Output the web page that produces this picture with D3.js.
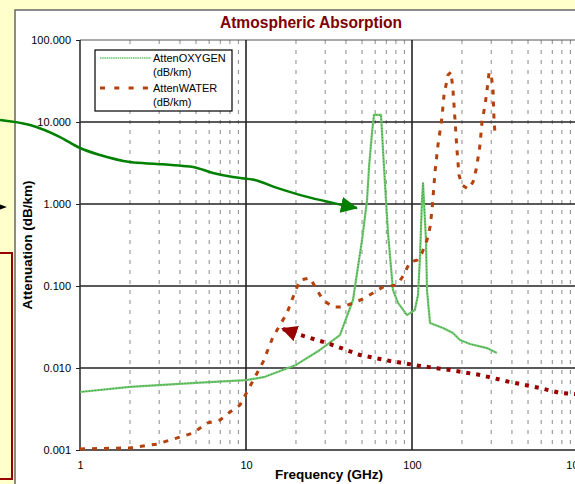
<!DOCTYPE html>
<html><head><meta charset="utf-8">
<script src="https://cdn.jsdelivr.net/npm/d3@7"></script>
<style>body{margin:0;background:#ffffcc;} svg{display:block;font-family:"Liberation Sans",Arial,sans-serif;}</style>
</head><body>
<script>
// ---- data ----
const oxygenFreq = [1, 2, 5, 10, 13, 20, 27.9, 36.8, 44.1, 50, 53.6, 55.1, 57.4, 59, 65, 66, 67.8, 69.7, 71.7, 74.7, 76.8, 82.4, 93.3, 104, 108.7, 111.7, 114.9, 116.5, 121.4, 123.1, 128.4, 153.7, 176.6, 194.5, 223.5, 283, 325];
const oxygenVal = [0.0051, 0.0059, 0.0066, 0.0071, 0.0078, 0.0109, 0.0166, 0.0252, 0.0675, 0.364, 1.12, 2.83, 7.35, 12.2, 12.2, 7.35, 2.83, 1.12, 0.442, 0.171, 0.0893, 0.0621, 0.0442, 0.0509, 0.0776, 0.226, 1.12, 1.80, 0.364, 0.0893, 0.0354, 0.0308, 0.0267, 0.0219, 0.0196, 0.0175, 0.0152];
const waterFreq = [1, 2, 2.91, 4.0, 4.8, 5.82, 6.97, 8.01, 9.2, 10.28, 11.33, 12.66, 14.54, 17.66, 19.73, 21.16, 24.3, 26.8, 29.1, 33.4, 38.4, 45.4, 50.7, 58.2, 66.9, 81.2, 88.3, 97.3, 107.2, 114.9, 123.1, 128.4, 132, 133.9, 137.6, 143.4, 151.6, 155.9, 164.8, 171.8, 176.6, 181.6, 186.6, 191.9, 200, 217.4, 233, 243.1, 249.9, 256.8, 264, 275.4, 283.2, 291.1, 299.3, 307.7, 312, 316.2];
const waterVal = [0.00103, 0.00106, 0.00118, 0.00144, 0.00161, 0.00213, 0.00232, 0.00291, 0.00354, 0.00539, 0.00777, 0.0118, 0.0239, 0.0469, 0.0845, 0.118, 0.125, 0.0893, 0.0675, 0.0554, 0.0554, 0.0638, 0.0694, 0.0822, 0.0972, 0.103, 0.132, 0.196, 0.207, 0.253, 0.364, 0.524, 0.845, 1.22, 2.46, 5.24, 11.5, 21.3, 37.4, 40.7, 24.5, 10.6, 4.56, 2.26, 1.71, 1.52, 1.85, 2.60, 3.64, 5.24, 10.0, 16.1, 24.5, 39.6, 39.6, 24.5, 10.6, 7.35];
const xTickValues = [1, 10, 100, 1000];
const xTickLabels = ["1", "10", "100", "1000"];
const yTickValues = [0.001, 0.01, 0.1, 1, 10, 100];
const yTickLabels = ["0.001", "0.010", "0.100", "1.000", "10.000", "100.000"];
const seriesNames = ["AttenOXYGEN", "AttenWATER"];
const seriesUnit = "(dB/km)";
const chartTitle = "Atmospheric Absorption";
const xTitle = "Frequency (GHz)";
const yTitle = "Attenuation (dB/km)";
// slide annotations (in data coordinates)
const greenArrowFreq = [0.33, 0.5, 0.758, 1, 1.32, 2.0, 2.91, 4.17, 4.8, 6.33, 8.35, 11.33, 15.37, 20.3, 46.6];
const greenArrowVal = [10.6, 9.19, 6.56, 4.82, 3.96, 3.25, 3.08, 2.91, 2.83, 2.39, 2.13, 1.96, 1.57, 1.32, 0.894];
const redArrowFreq = [1000, 959, 779, 590, 389, 257, 169, 112, 73.7, 48.6, 32.1, 21.2, 16.7];
const redArrowVal = [0.00475, 0.00482, 0.00496, 0.0057, 0.00675, 0.00822, 0.00946, 0.0106, 0.0122, 0.0144, 0.0196, 0.0253, 0.0299];

const W = 575, H = 484;
const svg = d3.select("body").append("svg").attr("width", W).attr("height", H);
const x = d3.scaleLog().domain([1, 1000]).range([80, 578]);
const y = d3.scaleLog().domain([0.001, 100]).range([450, 40]);

// backgrounds
svg.append("rect").attr("width", W).attr("height", H).attr("fill", "#ffffcc");
svg.append("rect").attr("x", 15).attr("y", 10).attr("width", W).attr("height", H).attr("fill", "#fff")
  .attr("stroke", "#666").attr("stroke-width", 1.5);
// red box on slide (partially visible)
svg.append("rect").attr("x", -10).attr("y", 253).attr("width", 22).attr("height", 226)
  .attr("fill", "#ffffcc").attr("stroke", "#990000").attr("stroke-width", 2);

// minor vertical grid
const minor = [];
[1, 10, 100, 1000].forEach(d => { for (let k = 2; k <= 9; k++) minor.push(d * k); });
svg.append("g").selectAll("line").data(minor.filter(v => x(v) < W + 5)).join("line")
  .attr("x1", d => x(d)).attr("x2", d => x(d)).attr("y1", y(100)).attr("y2", y(0.001))
  .attr("stroke", "#8a8a8a").attr("stroke-width", 1).attr("stroke-dasharray", "4,6");

// major grid
svg.append("g").selectAll("line").data(yTickValues).join("line")
  .attr("x1", x(1)).attr("x2", W + 5).attr("y1", d => y(d)).attr("y2", d => y(d))
  .attr("stroke", d => d === 100 ? "#555" : "#222").attr("stroke-width", d => d === 100 ? 1 : 1.6);
svg.append("g").selectAll("line").data(xTickValues).join("line")
  .attr("x1", d => x(d)).attr("x2", d => x(d)).attr("y1", y(100)).attr("y2", y(0.001))
  .attr("stroke", d => d === 1 ? "#333" : "#222").attr("stroke-width", 1.6);

// y axis
const yAxis = d3.axisLeft(y).tickValues(yTickValues).tickSize(4).tickPadding(5)
  .tickFormat((d, i) => yTickLabels[i]);
const ya = svg.append("g").attr("transform", `translate(${x(1)},0)`).call(yAxis);
ya.select(".domain").remove();
ya.selectAll("line").attr("stroke", "#222");
ya.selectAll("text").attr("font-size", 11).attr("fill", "#000").attr("font-family", "Liberation Sans, Arial, sans-serif");

// x axis
const xAxis = d3.axisBottom(x).tickValues(xTickValues).tickSize(0).tickPadding(11)
  .tickFormat((d, i) => xTickLabels[i]);
const xa = svg.append("g").attr("transform", `translate(0,${y(0.001)})`).call(xAxis);
xa.select(".domain").remove();
xa.selectAll("text").attr("font-size", 11).attr("fill", "#000").attr("font-family", "Liberation Sans, Arial, sans-serif");

// titles
svg.append("text").attr("x", 311).attr("y", 28).attr("text-anchor", "middle")
  .attr("font-size", 15.6).attr("font-weight", "bold").attr("fill", "#800000").text(chartTitle);
svg.append("text").attr("x", 329).attr("y", 479).attr("text-anchor", "middle")
  .attr("font-size", 13.5).attr("font-weight", "bold").attr("fill", "#000").text(xTitle);
svg.append("text").attr("transform", "translate(32,245) rotate(-90)").attr("text-anchor", "middle")
  .attr("font-size", 13.5).attr("font-weight", "bold").attr("fill", "#000").text(yTitle);

// series
const line = d3.line().x(d => x(d[0])).y(d => y(d[1]));
const oxy = oxygenFreq.map((f, i) => [f, oxygenVal[i]]);
const wat = waterFreq.map((f, i) => [f, waterVal[i]]);
svg.append("path").datum(oxy).attr("d", line).attr("fill", "none")
  .attr("stroke", "#74c874").attr("stroke-width", 2.2).attr("stroke-linejoin", "round");
svg.append("path").datum(oxy).attr("d", line).attr("fill", "none")
  .attr("stroke", "#2e9a2e").attr("stroke-width", 1).attr("stroke-dasharray", "1,2");
svg.append("path").datum(wat).attr("d", line).attr("fill", "none")
  .attr("stroke", "#b5420c").attr("stroke-width", 3).attr("stroke-dasharray", "5,7");

// legend
const lg = svg.append("g");
lg.append("rect").attr("x", 95).attr("y", 50).attr("width", 137).attr("height", 61)
  .attr("fill", "#fff").attr("stroke", "#000").attr("stroke-width", 1.2);
lg.append("line").attr("x1", 100).attr("x2", 151).attr("y1", 58).attr("y2", 58)
  .attr("stroke", "#66c266").attr("stroke-width", 1.5).attr("stroke-dasharray", "1.5,0.7");
lg.append("line").attr("x1", 100).attr("x2", 152).attr("y1", 88).attr("y2", 88)
  .attr("stroke", "#b5420c").attr("stroke-width", 3).attr("stroke-dasharray", "5,9.3");
[[seriesNames[0], 62], [seriesUnit, 76], [seriesNames[1], 92], [seriesUnit, 106]].forEach(([t, yy]) => {
  lg.append("text").attr("x", 153).attr("y", yy).attr("font-size", 11).attr("fill", "#000").text(t);
});

// annotations
const defs = svg.append("defs");
defs.append("marker").attr("id", "ga").attr("markerUnits", "userSpaceOnUse")
  .attr("markerWidth", 20).attr("markerHeight", 20).attr("refX", 16).attr("refY", 8)
  .attr("orient", "auto").append("path").attr("d", "M0,0 L17,8 L0,16 Z").attr("fill", "#008000");
defs.append("marker").attr("id", "ra").attr("markerUnits", "userSpaceOnUse")
  .attr("markerWidth", 20).attr("markerHeight", 20).attr("refX", 14).attr("refY", 8)
  .attr("orient", "auto").append("path").attr("d", "M0,0 L16,8 L0,16 Z").attr("fill", "#990000");

const gArrow = greenArrowFreq.map((f, i) => [f, greenArrowVal[i]]);
svg.append("path").datum(gArrow).attr("d", d3.line().x(d => x(d[0])).y(d => y(d[1])).curve(d3.curveMonotoneX))
  .attr("fill", "none").attr("stroke", "#008000").attr("stroke-width", 2.5).attr("marker-end", "url(#ga)");
const rArrow = redArrowFreq.map((f, i) => [f, redArrowVal[i]]);
svg.append("path").datum(rArrow).attr("d", line).attr("fill", "none")
  .attr("stroke", "#990000").attr("stroke-width", 4).attr("stroke-dasharray", "4,6").attr("marker-end", "url(#ra)");
// small black arrowhead on the left edge
const bx = x(0.363), by = y(0.919);
svg.append("path").attr("d", `M${bx - 11},${by - 4} L${bx},${by} L${bx - 11},${by + 4} Z`).attr("fill", "#000");
</script>
</body></html>
